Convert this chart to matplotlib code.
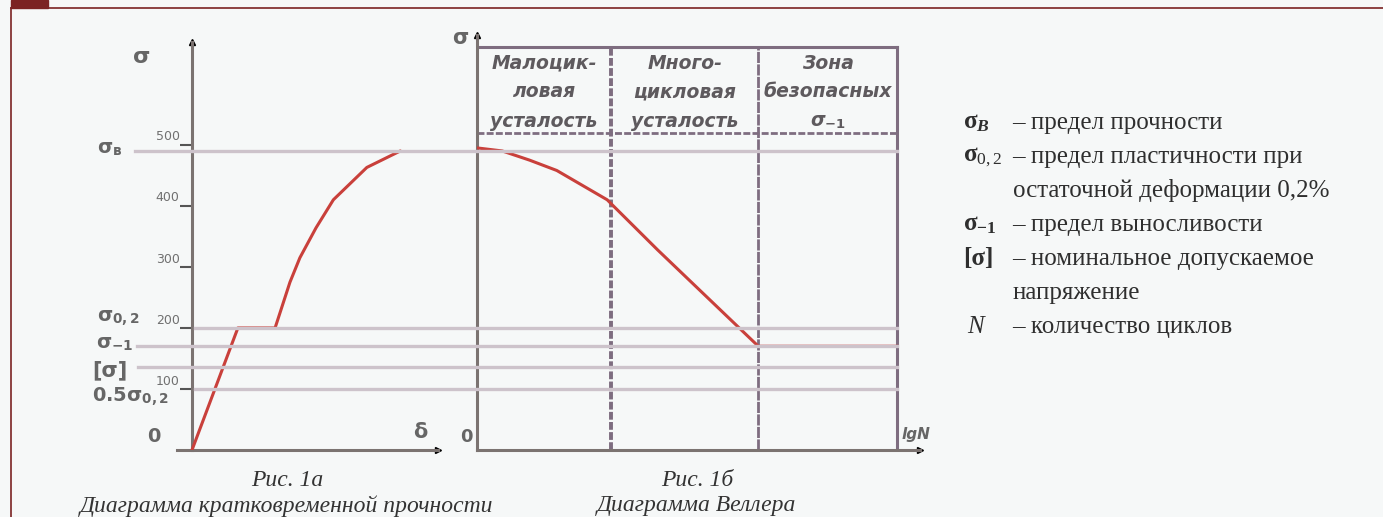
import matplotlib.pyplot as plt
from matplotlib.lines import Line2D
from matplotlib.patches import Rectangle
from matplotlib.transforms import blended_transform_factory

plt.rcParams["mathtext.fontset"] = "custom"
plt.rcParams["mathtext.rm"] = "Liberation Serif"
plt.rcParams["mathtext.it"] = "Liberation Serif:italic:bold"
plt.rcParams["mathtext.bf"] = "Liberation Serif:bold"
plt.rcParams["mathtext.sf"] = "DejaVu Sans:bold"

# --- данные ---
# кратковременная прочность (рис. 1а): деформация (усл. ед.) и напряжение
delta = [0, 18.5, 33.5, 39.5, 43.5, 50, 57, 70.5, 84]
sigma_a = [0, 200, 200, 275, 315, 364, 410, 463, 490]

# диаграмма Веллера (рис. 1б)
lgN = [0, 0.6, 1.25, 1.9, 2.45, 3.1, 4.3, 6.7, 10]
sigma_b = [495, 490, 475, 458, 436, 410, 328, 170, 170]

ticks = [100, 200, 300, 400, 500]
sigma_B, sigma_02, sigma_m1, sigma_allow = 490, 200, 170, 136
half_02 = 100

zones = [0, 3.2, 6.7, 10]
zone_names = [["Малоцик-", "ловая", "усталость"],
              ["Много-", "цикловая", "усталость"],
              ["Зона", "безопасных", r"σ$_{\mathsf{-1}}$"]]

W, H = 1383, 517
BG = "#f6f8f8"
AXC = "#7b7371"
RED = "#c9403b"
REF = "#cdc3cb"
BOX = "#7e6d80"
TXT = "#666666"

fig = plt.figure(figsize=(W / 100, H / 100), dpi=100, facecolor=BG)


def rect(x0, y0, x1, y1):
    return [x0 / W, 1 - y1 / H, (x1 - x0) / W, (y1 - y0) / H]


def fx(x):
    return x / W


def fy(y):
    return 1 - y / H


# рамка страницы
fig.add_artist(Line2D([fx(11), 1], [fy(8), fy(8)], color="#7b2323", lw=1.2))
fig.add_artist(Line2D([fx(11), fx(11)], [fy(8), 0], color="#7b2323", lw=1.2))
fig.add_artist(Rectangle((fx(11), fy(8)), fx(37), 8 / H, color="#7b2323",
                         transform=fig.transFigure))

# --- рис. 1а ---
ax1 = fig.add_axes(rect(177, 35, 440, 450))
ax1.set_xlim(-6.05, 100)
ax1.set_ylim(0, 680)
ax1.set_facecolor("none")
for s in ["top", "right"]:
    ax1.spines[s].set_visible(False)
ax1.spines["left"].set_position(("data", 0))
ax1.spines["left"].set_bounds(0, 669)
ax1.spines["bottom"].set_bounds(-6.05, 99)
for s in ["left", "bottom"]:
    ax1.spines[s].set_color(AXC)
    ax1.spines[s].set_linewidth(2.2)
ax1.set_xticks([])
ax1.set_yticks(ticks)
ax1.set_yticklabels([])
ax1.tick_params(axis="y", direction="out", length=9, width=1.5, color="#555555")
for t in ticks:
    ax1.annotate(str(t), (0, t), xytext=(-9, 1), textcoords="offset points",
                 ha="right", va="bottom", fontsize=9, color="#707070")
ax1.plot([0], [669], marker="^", color="black", ms=5, clip_on=False)
ax1.plot([99], [0], marker=">", color="black", ms=5, clip_on=False)
ax1.plot(delta, sigma_a, color=RED, lw=2.2, zorder=5, solid_capstyle="round")

# горизонтальные уровни напряжений
tr = blended_transform_factory(fig.transFigure, ax1.transData)
for val, x0 in [(sigma_B, 135), (sigma_02, 195), (sigma_m1, 137),
                (sigma_allow, 138), (half_02, 195)]:
    fig.add_artist(Line2D([fx(x0), fx(897)], [val, val], transform=tr,
                          color=REF, lw=2.4, zorder=1))

lab = dict(transform=fig.transFigure, color=TXT, fontweight="bold",
           ha="left", va="center")
fig.text(fx(133), fy(57), "σ", fontsize=16, **lab)
fig.text(fx(97), fy(148), r"σ$_{\mathsf{в}}$", fontsize=14, **lab)
fig.text(fx(97), fy(318), r"σ$_{\mathsf{0,2}}$", fontsize=14, **lab)
fig.text(fx(96), fy(344), r"σ$_{\mathsf{-1}}$", fontsize=14, **lab)
fig.text(fx(92), fy(370), "[σ]", fontsize=15, **lab)
fig.text(fx(92), fy(397), r"0.5σ$_{\mathsf{0,2}}$", fontsize=14, **lab)
fig.text(fx(147), fy(437), "0", fontsize=14, **lab)
fig.text(fx(413), fy(432), "δ", fontsize=15, **lab)

# --- рис. 1б ---
ax2 = fig.add_axes(rect(477, 35, 920, 450))
ax2.set_xlim(0, 10.55)
ax2.set_ylim(0, 680)
ax2.set_facecolor("none")
for s in ["top", "right"]:
    ax2.spines[s].set_visible(False)
for s in ["left", "bottom"]:
    ax2.spines[s].set_color(AXC)
    ax2.spines[s].set_linewidth(2.2)
ax2.set_xticks([])
ax2.set_yticks([])
ax2.plot([0], [680], marker="^", color="black", ms=5, clip_on=False)
ax2.plot([10.55], [0], marker=">", color="black", ms=5, clip_on=False)

top, head = 660, 520
ax2.plot([zones[0], zones[-1]], [top, top], color=BOX, lw=2.2)
ax2.plot([zones[0], zones[-1]], [head, head], color=BOX, lw=2,
         dashes=(2.5, 0.8))
ax2.plot([zones[1], zones[1]], [0, top], color=BOX, lw=2.8, dashes=(2, 0.6))
ax2.plot([zones[2], zones[2]], [0, top], color=BOX, lw=2, dashes=(4, 0.5))
ax2.plot([zones[3], zones[3]], [0, top], color=BOX, lw=2.2)

row_y = [634, 587, 538]
for i, names in enumerate(zone_names):
    xc = (zones[i] + zones[i + 1]) / 2
    for line, yy in zip(names, row_y):
        ax2.text(xc, yy, line, ha="center", va="center", fontsize=13.5,
                 style="italic", fontweight="bold", color="#5e5a5e",
                 family="DejaVu Sans")

ax2.plot(lgN, sigma_b, color=RED, lw=2.2, zorder=5)

fig.text(fx(452), fy(38), "σ", fontsize=15, **lab)
fig.text(fx(460), fy(437), "0", fontsize=13, **lab)
fig.text(fx(902), fy(434), "lgN", fontsize=11, style="italic", **lab)

# --- подписи ---
cap = dict(transform=fig.transFigure, ha="center", va="center",
           fontsize=17, style="italic", family="Liberation Serif",
           color="#333333")
fig.text(fx(287), fy(480), "Рис. 1а", **cap)
fig.text(fx(287), fy(506), "Диаграмма кратковременной прочности", **cap)
fig.text(fx(697), fy(480), "Рис. 1б", **cap)
fig.text(fx(697), fy(506), "Диаграмма Веллера", **cap)

# --- легенда ---
leg = dict(transform=fig.transFigure, ha="left", va="center", fontsize=18,
           family="Liberation Serif", color="#2f2f2f")
rows = [123, 157, 191, 225, 259, 293, 327]
fig.text(fx(963), fy(rows[0]), r"σ$_{\mathit{B}}$", fontweight="bold", **leg)
fig.text(fx(1012), fy(rows[0]), "– предел прочности", **leg)
fig.text(fx(963), fy(rows[1]), r"σ$_{\mathit{0,2}}$", fontweight="bold", **leg)
fig.text(fx(1012), fy(rows[1]), "– предел пластичности при", **leg)
fig.text(fx(1013), fy(rows[2]), "остаточной деформации 0,2%", **leg)
fig.text(fx(963), fy(rows[3]), r"σ$_{\mathbf{-1}}$", fontweight="bold", **leg)
fig.text(fx(1012), fy(rows[3]), "– предел выносливости", **leg)
fig.text(fx(963), fy(rows[4]), "[σ]", fontweight="bold", **leg)
fig.text(fx(1012), fy(rows[4]), "– номинальное допускаемое", **leg)
fig.text(fx(1013), fy(rows[5]), "напряжение", **leg)
fig.text(fx(967), fy(rows[6]), "N", style="italic", **leg)
fig.text(fx(1012), fy(rows[6]), "– количество циклов", **leg)

fig.savefig("out.png", dpi=100, facecolor=BG)
